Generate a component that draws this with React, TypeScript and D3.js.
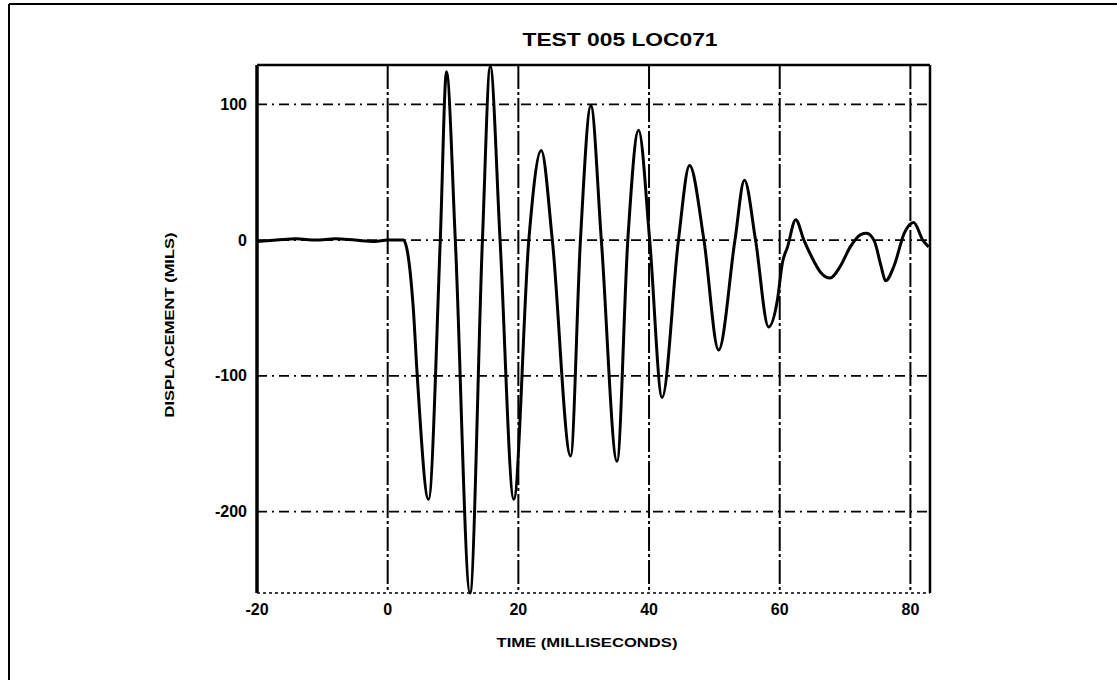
import * as d3 from "d3";

const width = 1117;
const height = 680;
const marginLeft = 257;
const marginRight = 187; // plot right edge at 930
const marginTop = 65;
const marginBottom = 87; // plot bottom at 593

const title = "TEST 005  LOC071";
const xLabel = "TIME (MILLISECONDS)";
const yLabel = "DISPLACEMENT (MILS)";

const xTicks = [-20, 0, 20, 40, 60, 80];
const yTicks = [100, 0, -100, -200];
const xGrid = [0, 20, 40, 60, 80];

// time (ms) and displacement (mils)
const times = [
  -20, -17, -14, -11, -8, -5, -2, 0, 2.4, 3.9, 4.5, 6.25, 8.05, 9.0, 10.35,
  12.6, 14.5, 15.7, 17.2, 19.3, 21.6, 23.5, 25.2, 28.0, 29.5, 31.1, 32.7,
  35.1, 36.75, 38.4, 40.1, 42.0, 44.5, 46.2, 48.4, 50.65, 53.15, 54.6, 56.3,
  58.3, 59.65, 60.4, 61.2, 62.45, 63.7, 64.75, 66.3, 67.7, 69.3, 70.8, 72.4,
  73.3, 74.5, 75.5, 76.2, 77.5, 79.05, 80.5, 81.9, 82.8,
];
const displacement = [
  -1, 0, 1, 0, 1, 0, -1, 0, 0, -49, -98, -191, 0, 124, 0,
  -260, 0, 128, 0, -191, 0, 66, 0, -159, 0, 99, 0,
  -163, 0, 81, 0, -116, 0, 55, 0, -81, 0, 44, 0,
  -64, -44, -17, -5, 15, 0, -11, -24, -28, -19, -5, 4,
  5, -1, -19, -30, -19, 5, 13, 0, -5,
];

export default function App() {
  const x = d3.scaleLinear([-20, 83], [marginLeft, width - marginRight]);
  const y = d3.scaleLinear([-260, 129], [height - marginBottom, marginTop]);
  const top = marginTop;
  const bottom = height - marginBottom;
  const left = marginLeft;
  const right = width - marginRight;

  const line = d3
    .line<number>()
    .x((d, i) => x(times[i]))
    .y((d) => y(d))
    .curve(d3.curveMonotoneX);

  const font = "'Liberation Sans', Arial, sans-serif";

  return (
    <svg
      width={width}
      height={height}
      style={{ position: "absolute", left: 0, top: 0, background: "#fff" }}
    >
      <rect width={width} height={height} fill="#fff" />
      {/* page border */}
      <line x1={9} x2={width} y1={4} y2={4} stroke="#000" strokeWidth={2} />
      <line x1={9} x2={9} y1={4} y2={height} stroke="#000" strokeWidth={2} />

      {/* grid */}
      {yTicks.map((t) => (
        <line
          key={"h" + t}
          x1={left}
          x2={right}
          y1={y(t)}
          y2={y(t)}
          stroke="#000"
          strokeWidth={1.8}
          strokeDasharray="10,5,2,5"
        />
      ))}
      {xGrid.map((t) => (
        <line
          key={"v" + t}
          x1={x(t)}
          x2={x(t)}
          y1={top}
          y2={bottom}
          stroke="#000"
          strokeWidth={2}
          strokeDasharray="24,3,3,3"
        />
      ))}

      {/* frame */}
      <line x1={left} x2={left} y1={top} y2={bottom} stroke="#000" strokeWidth={3.5} />
      <line x1={left} x2={right} y1={top} y2={top} stroke="#000" strokeWidth={2.5} />
      <line x1={right} x2={right} y1={top} y2={bottom} stroke="#000" strokeWidth={2.5} />
      <line
        x1={left}
        x2={right}
        y1={bottom}
        y2={bottom}
        stroke="#000"
        strokeWidth={1.5}
        strokeDasharray="3,3"
      />

      {/* trace */}
      <path d={line(displacement) ?? ""} fill="none" stroke="#000" strokeWidth={3} />

      {/* tick labels */}
      {yTicks.map((t) => (
        <text
          key={"yl" + t}
          x={left - 10}
          y={y(t)}
          dy="0.35em"
          textAnchor="end"
          fontFamily={font}
          fontWeight="bold"
          fontSize={16}
        >
          {t}
        </text>
      ))}
      {xTicks.map((t) => (
        <text
          key={"xl" + t}
          x={x(t)}
          y={bottom + 16}
          dy="0.35em"
          textAnchor="middle"
          fontFamily={font}
          fontWeight="bold"
          fontSize={16}
        >
          {t}
        </text>
      ))}

      {/* titles */}
      <text
        x={620}
        y={40}
        dy="0.35em"
        textAnchor="middle"
        fontFamily={font}
        fontWeight="bold"
        fontSize={18}
        textLength={195}
        lengthAdjust="spacingAndGlyphs"
      >
        {title}
      </text>
      <text
        x={587}
        y={643}
        dy="0.35em"
        textAnchor="middle"
        fontFamily={font}
        fontWeight="bold"
        fontSize={12}
        textLength={181}
        lengthAdjust="spacingAndGlyphs"
      >
        {xLabel}
      </text>
      <text
        transform="translate(169,325) rotate(-90)"
        dy="0.35em"
        textAnchor="middle"
        fontFamily={font}
        fontWeight="bold"
        fontSize={13}
        textLength={185}
        lengthAdjust="spacingAndGlyphs"
      >
        {yLabel}
      </text>
    </svg>
  );
}
